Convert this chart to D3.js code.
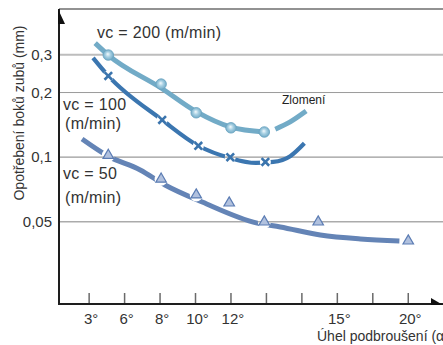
<!DOCTYPE html>
<html>
<head>
  <meta charset="utf-8">
  <title>Opotřebení boků zubů</title>
  <script src="https://d3js.org/d3.v7.min.js"></script>
  <style>
    body { margin: 0; background: #fff; overflow: hidden; }
    svg { display: block; }
    text { font-family: "Liberation Sans", Arial, sans-serif; fill: #333; }
  </style>
</head>
<body>
  <div id="chart"></div>
  <script>
    // x is measured in tick slots (the original axis is not linear in degrees)
    var tickLabels = ["3°", "6°", "8°", "10°", "12°", "", "", "15°", "", "20°"];
    var yTicks = [0.3, 0.2, 0.1, 0.05];
    var yTickLabels = ["0,3", "0,2", "0,1", "0,05"];

    // vc = 200 (m/min), circles
    var vc200Marks = [[0.54, 0.299], [2.03, 0.219], [3.02, 0.161], [4.0, 0.137], [4.94, 0.131]];
    var vc200Line = [[0.17, 0.340], [0.54, 0.299], [2.03, 0.210], [3.02, 0.163], [4.0, 0.138], [4.94, 0.131]];
    var vc200Tail = [[5.25, 0.135], [5.67, 0.146], [6.12, 0.164]];

    // vc = 100 (m/min), crosses
    var vc100Marks = [[0.54, 0.239], [2.06, 0.149], [3.08, 0.113], [3.98, 0.100], [4.97, 0.095]];
    var vc100Line = [[0.11, 0.290], [0.54, 0.239], [2.06, 0.149], [3.08, 0.113], [3.98, 0.099],
                     [4.7, 0.094], [5.19, 0.095], [5.67, 0.101], [6.07, 0.116]];

    // vc = 50 (m/min), triangles
    var vc50Marks = [[0.54, 0.102], [2.03, 0.079], [3.02, 0.0667], [3.95, 0.0612],
                     [4.94, 0.0499], [6.46, 0.0499], [9.0, 0.0407]];
    var vc50Line = [[-0.2, 0.1215], [0.54, 0.101], [1.44, 0.0872], [2.14, 0.0742], [3.19, 0.0618],
                    [4.74, 0.0493], [5.39, 0.0473], [6.52, 0.0434], [7.65, 0.0416], [8.75, 0.0407]];

    var W = 443, H = 345;
    var plot = {left: 59, right: 443, top: 9, bottom: 304};

    var svg = d3.select("#chart").append("svg")
      .attr("width", W).attr("height", H);

    var x = d3.scaleLinear().domain([-0.85, 9.98]).range([plot.left, plot.right]);
    var y = d3.scaleLog().domain([0.0207, 0.49]).range([plot.bottom, plot.top]);

    var defs = svg.append("defs");
    var grad = defs.append("radialGradient").attr("id", "ball")
      .attr("cx", "50%").attr("cy", "50%").attr("r", "55%")
      .attr("fx", "45%").attr("fy", "40%");
    grad.append("stop").attr("offset", "0%").attr("stop-color", "#f4fafd");
    grad.append("stop").attr("offset", "45%").attr("stop-color", "#a6cfe2");
    grad.append("stop").attr("offset", "100%").attr("stop-color", "#6aa5c2");

    // masks cut small gaps in the lines where the markers sit
    function gapMask(id, marks, r) {
      var m = defs.append("mask").attr("id", id)
        .attr("maskUnits", "userSpaceOnUse")
        .attr("x", 0).attr("y", 0).attr("width", W).attr("height", H);
      m.append("rect").attr("width", W).attr("height", H).attr("fill", "#fff");
      m.selectAll("circle").data(marks).enter().append("circle")
        .attr("cx", function(d) { return x(d[0]); })
        .attr("cy", function(d) { return y(d[1]); })
        .attr("r", r).attr("fill", "#000");
    }
    gapMask("gap100", vc100Marks, 5.5);
    gapMask("gap50", vc50Marks, 6.5);

    // grid lines
    var gridStyle = [["#bdbdbd", 2], ["#9a9a9a", 1], ["#9a9a9a", 1.2], ["#ababab", 1.5]];
    svg.append("g").selectAll("line").data(yTicks).enter().append("line")
      .attr("x1", plot.left).attr("x2", plot.right)
      .attr("y1", function(d) { return y(d); })
      .attr("y2", function(d) { return y(d); })
      .attr("stroke", function(d, i) { return gridStyle[i][0]; })
      .attr("stroke-width", function(d, i) { return gridStyle[i][1]; });

    // top border
    svg.append("line")
      .attr("x1", plot.left).attr("x2", plot.right).attr("y1", plot.top).attr("y2", plot.top)
      .attr("stroke", "#6e6e6e").attr("stroke-width", 1.3);

    // y tick labels
    svg.append("g").selectAll("text").data(yTicks).enter().append("text")
      .attr("x", 52)
      .attr("y", function(d) { return y(d) + 5; })
      .attr("text-anchor", "end")
      .style("font-size", "15px")
      .text(function(d, i) { return yTickLabels[i]; });

    // x ticks and labels
    var xt = svg.append("g");
    xt.selectAll("line").data(tickLabels).enter().append("line")
      .attr("x1", function(d, i) { return x(i); })
      .attr("x2", function(d, i) { return x(i); })
      .attr("y1", plot.bottom).attr("y2", plot.bottom - 11)
      .attr("stroke", "#6a6a6a").attr("stroke-width", 1.5);
    xt.selectAll("text").data(tickLabels).enter().append("text")
      .attr("x", function(d, i) { return x(i) + 2; })
      .attr("y", plot.bottom + 20)
      .attr("text-anchor", "middle")
      .style("font-size", "15px")
      .text(function(d) { return d; });

    var line = d3.line()
      .x(function(d) { return x(d[0]); })
      .y(function(d) { return y(d[1]); })
      .curve(d3.curveMonotoneX);

    // vc = 50
    svg.append("path").datum(vc50Line)
      .attr("d", line).attr("fill", "none")
      .attr("stroke", "#6484b6").attr("stroke-width", 5)
      .attr("mask", "url(#gap50)");
    svg.append("g").selectAll("path").data(vc50Marks).enter().append("path")
      .attr("d", d3.symbol(d3.symbolTriangle, 48))
      .attr("transform", function(d) { return "translate(" + x(d[0]) + "," + y(d[1]) + ")"; })
      .attr("fill", "#b1c1de").attr("stroke", "#5b7cb3").attr("stroke-width", 1.2);

    // vc = 100
    svg.append("path").datum(vc100Line)
      .attr("d", line).attr("fill", "none")
      .attr("stroke", "#3b76b0").attr("stroke-width", 4.2)
      .attr("mask", "url(#gap100)");
    svg.append("g").selectAll("path").data(vc100Marks).enter().append("path")
      .attr("d", "M-3.8,-3.8L3.8,3.8M3.8,-3.8L-3.8,3.8")
      .attr("transform", function(d) { return "translate(" + x(d[0]) + "," + y(d[1]) + ")"; })
      .attr("fill", "none").attr("stroke", "#3a74ad").attr("stroke-width", 2.6);

    // vc = 200
    [vc200Line, vc200Tail].forEach(function(seg) {
      svg.append("path").datum(seg)
        .attr("d", line).attr("fill", "none")
        .attr("stroke", "#72abc7").attr("stroke-width", 5)
        .attr("stroke-linecap", "butt");
    });
    svg.append("g").selectAll("circle").data(vc200Marks).enter().append("circle")
      .attr("cx", function(d) { return x(d[0]); })
      .attr("cy", function(d) { return y(d[1]); })
      .attr("r", 5.3)
      .attr("fill", "url(#ball)")
      .attr("stroke", "#6aa3c0").attr("stroke-width", 0.8);

    // axes with half arrow heads
    svg.append("line")
      .attr("x1", plot.left).attr("x2", plot.left).attr("y1", plot.top).attr("y2", plot.bottom + 1)
      .attr("stroke", "#1e1e1e").attr("stroke-width", 2);
    svg.append("line")
      .attr("x1", plot.left - 1).attr("x2", plot.right).attr("y1", plot.bottom).attr("y2", plot.bottom)
      .attr("stroke", "#1e1e1e").attr("stroke-width", 2);
    svg.append("path")
      .attr("d", "M" + (plot.left - 1) + "," + plot.top + "L" + (plot.left + 6) + "," + (plot.top + 15) +
                 "L" + (plot.left - 1) + "," + (plot.top + 15) + "Z")
      .attr("fill", "#111");
    svg.append("path")
      .attr("d", "M" + plot.right + "," + (plot.bottom + 1) + "L" + (plot.right - 12) + "," + (plot.bottom - 6) +
                 "L" + (plot.right - 12) + "," + (plot.bottom + 1) + "Z")
      .attr("fill", "#111");

    // series labels
    var lab = svg.append("g").style("font-size", "16px").style("letter-spacing", "0.3px");
    lab.append("text").attr("x", 97).attr("y", 38).text("vc = 200 (m/min)");
    lab.append("text").attr("x", 63).attr("y", 110).text("vc = 100");
    lab.append("text").attr("x", 65).attr("y", 129).text("(m/min)");
    lab.append("text").attr("x", 63).attr("y", 179).text("vc = 50");
    lab.append("text").attr("x", 65).attr("y", 203).text("(m/min)");

    svg.append("text").attr("x", 282).attr("y", 104)
      .style("font-size", "12px").style("fill", "#222")
      .text("Zlomení");

    // axis titles
    svg.append("text")
      .attr("transform", "translate(24,113) rotate(-90)")
      .attr("text-anchor", "middle")
      .style("font-size", "14px")
      .text("Opotřebení boků zubů (mm)");
    svg.append("text").attr("x", 317).attr("y", 341)
      .style("font-size", "14px")
      .text("Úhel podbroušení (α°)");
  </script>
</body>
</html>
